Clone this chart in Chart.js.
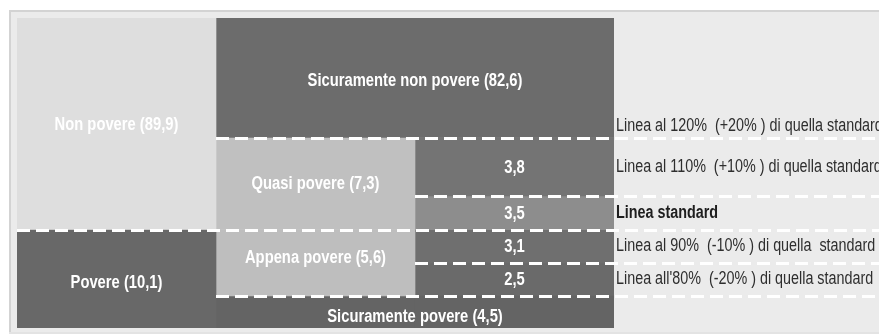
<!DOCTYPE html>
<html lang="it">
<head>
<meta charset="utf-8">
<title>Famiglie povere e non povere</title>
<script src="https://cdn.jsdelivr.net/npm/chart.js@4/dist/chart.umd.min.js"></script>
<style>
  html, body { margin: 0; padding: 0; background: #ffffff; }
  canvas { display: block; }
</style>
</head>
<body>
<canvas id="chart" width="879" height="334"></canvas>
<script>
// Households (%) by position relative to the standard poverty line
const columns = ['Famiglie', 'Classi', 'Fasce'];
const statusNames = ['Non povere', 'Povere'];
const statusShares = [89.9, 10.1];
const classNames = ['Sicuramente non povere', 'Quasi povere', 'Appena povere', 'Sicuramente povere'];
const classShares = [82.6, 7.3, 5.6, 4.5];
const bandShares = [3.8, 3.5, 3.1, 2.5];          // between consecutive lines, 120% down to 80%
const lineLevels = [120, 110, 100, 90, 80];       // % of the standard line
const lineLabels = [
  'Linea al 120%  (+20% ) di quella standard',
  'Linea al 110%  (+10% ) di quella standard',
  'Linea standard',
  'Linea al 90%  (-10% ) di quella  standard',
  "Linea all'80%  (-20% ) di quella standard"
];
const axisTop = 130;
const axisBottom = 70;

// ---- styling ----
const statusColors = ['#dedede', '#686868'];
const classColors = ['#6c6c6c', '#c0c0c0', '#bebebe', '#646464'];
const bandColors = ['#747474', '#8d8d8d', '#6f6f6f', '#6a6a6a'];
const lineStartColumn = [1, 2, 0, 2, 1];
// drawn height of each 10-point band, bottom to top
const bandWeights = [32, 33, 33.5, 33.5, 58.5, 119.5];
const NARROW = 0.82;

const fmt = v => v.toFixed(1).replace('.', ',');

// Piecewise-linear value axis: equal value steps, unequal drawn heights
class BandScale extends Chart.LinearScale {
  static id = 'band';
  static defaults = Chart.LinearScale.defaults;
  _frac(value) {
    const n = bandWeights.length;
    const total = bandWeights.reduce((a, b) => a + b, 0);
    const step = (this.max - this.min) / n;
    const t = (value - this.min) / step;
    const i = Math.max(0, Math.min(n - 1, Math.floor(t)));
    let acc = 0;
    for (let k = 0; k < i; k++) acc += bandWeights[k];
    acc += (t - i) * bandWeights[i];
    return acc / total;
  }
  getPixelForValue(value) {
    return this.bottom - this._frac(value) * (this.bottom - this.top);
  }
  getValueForPixel(pixel) {
    const n = bandWeights.length;
    const total = bandWeights.reduce((a, b) => a + b, 0);
    const step = (this.max - this.min) / n;
    let w = (this.bottom - pixel) / (this.bottom - this.top) * total;
    let i = 0;
    while (i < n - 1 && w > bandWeights[i]) { w -= bandWeights[i]; i++; }
    return this.min + (i + w / bandWeights[i]) * step;
  }
}
Chart.register(BandScale);

// ---- blocks ----
const standard = lineLevels[2];
const blocks = [];
function block(label, color, cols, range, textShift) {
  const data = columns.map((c, i) => cols.includes(i) ? range : null);
  blocks.push({ label, data, backgroundColor: color, blockText: label, textShift: textShift || 0 });
}
block(statusNames[0] + ' (' + fmt(statusShares[0]) + ')', statusColors[0], [0], [standard, axisTop], 0);
block(statusNames[1] + ' (' + fmt(statusShares[1]) + ')', statusColors[1], [0], [axisBottom, standard], 3);
block(classNames[0] + ' (' + fmt(classShares[0]) + ')', classColors[0], [1, 2], [lineLevels[0], axisTop], 2);
block(classNames[1] + ' (' + fmt(classShares[1]) + ')', classColors[1], [1], [standard, lineLevels[0]], 0);
block(classNames[2] + ' (' + fmt(classShares[2]) + ')', classColors[2], [1], [lineLevels[4], standard], -6);
block(classNames[3] + ' (' + fmt(classShares[3]) + ')', classColors[3], [1, 2], [axisBottom, lineLevels[4]], 4);
bandShares.forEach((v, i) => {
  block(fmt(v), bandColors[i], [2], [lineLevels[i + 1], lineLevels[i]], 0);
});

function narrowText(ctx, text, x, y, align) {
  ctx.save();
  ctx.translate(x, y);
  ctx.scale(NARROW, 1);
  ctx.textAlign = align;
  ctx.textBaseline = 'middle';
  ctx.fillText(text, 0, 0);
  ctx.restore();
}

const panelPlugin = {
  id: 'panel',
  beforeDraw(chart) {
    const ctx = chart.ctx;
    ctx.save();
    ctx.fillStyle = '#ebebeb';
    ctx.fillRect(10, 11, chart.width - 10, 323);
    ctx.fillStyle = '#d3d3d3';
    ctx.fillRect(9, 10, chart.width - 9, 2);
    ctx.fillRect(9, 10, 2, 324);
    ctx.fillStyle = '#e3e3e3';
    ctx.fillRect(9, 332, chart.width - 9, 2);
    ctx.restore();
  }
};

const annotatePlugin = {
  id: 'annotate',
  afterDatasetsDraw(chart) {
    const ctx = chart.ctx;
    const x = chart.scales.x, y = chart.scales.y;
    const colW = (x.right - x.left) / columns.length;

    // dashed level lines
    ctx.save();
    ctx.strokeStyle = '#ffffff';
    ctx.lineWidth = 3;
    ctx.setLineDash([13, 6]);
    lineLevels.forEach((lv, i) => {
      const py = Math.round(y.getPixelForValue(lv)) + 0.5;
      ctx.beginPath();
      ctx.moveTo(x.left + lineStartColumn[i] * colW, py);
      ctx.lineTo(chart.width, py);
      ctx.stroke();
    });
    ctx.restore();

    // block labels
    ctx.save();
    ctx.fillStyle = '#ffffff';
    ctx.font = 'bold 18px "Liberation Sans", Arial, sans-serif';
    chart.data.datasets.forEach((ds, di) => {
      const meta = chart.getDatasetMeta(di);
      let l = Infinity, r = -Infinity, t = Infinity, b = -Infinity;
      meta.data.forEach((el, i) => {
        if (ds.data[i] == null) return;
        const p = el.getProps(['x', 'y', 'base', 'width'], true);
        l = Math.min(l, p.x - p.width / 2);
        r = Math.max(r, p.x + p.width / 2);
        t = Math.min(t, p.y, p.base);
        b = Math.max(b, p.y, p.base);
      });
      narrowText(ctx, ds.blockText, (l + r) / 2, (t + b) / 2 + 1 + ds.textShift, 'center');
    });
    ctx.restore();

    // line captions
    ctx.save();
    const tx = x.right + 2;
    lineLevels.forEach((lv, i) => {
      const py = y.getPixelForValue(lv);
      const pyAbove = y.getPixelForValue(lv + 10);
      const cy = i === 0 ? py - 11 : (py + pyAbove) / 2;
      const bold = lv === standard;
      ctx.fillStyle = bold ? '#1e1e1e' : '#2e2e2e';
      ctx.font = (bold ? 'bold ' : '') + '17.5px "Liberation Sans", Arial, sans-serif';
      narrowText(ctx, lineLabels[i], tx, cy, 'left');
    });
    ctx.restore();
  }
};

new Chart(document.getElementById('chart'), {
  type: 'bar',
  data: { labels: columns, datasets: blocks },
  options: {
    responsive: false,
    animation: false,
    layout: { padding: { left: 17, right: 265, top: 18, bottom: 6 } },
    datasets: {
      bar: {
        grouped: false,
        barPercentage: 1,
        categoryPercentage: 1,
        borderWidth: 0,
        borderSkipped: false
      }
    },
    plugins: { legend: { display: false }, tooltip: { enabled: false } },
    scales: {
      x: { type: 'category', display: false, offset: true, grid: { display: false } },
      y: { type: 'band', display: false, min: axisBottom, max: axisTop }
    }
  },
  plugins: [panelPlugin, annotatePlugin]
});
</script>
</body>
</html>
